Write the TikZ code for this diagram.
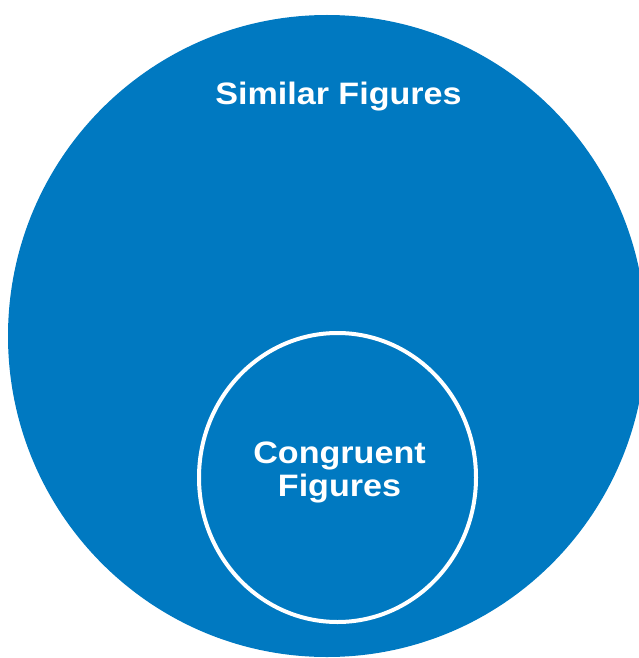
\documentclass[tikz,border=0pt]{standalone}
\usepackage{fontspec}
\setmainfont{Liberation Sans}
\newfontfamily\setfont{Liberation Sans}[FakeStretch=1.1]
\usetikzlibrary{positioning}
\usetikzlibrary{shapes.geometric}
\definecolor{setblue}{RGB}{0,121,193}

\begin{document}
\begin{tikzpicture}[x=1pt,y=1pt,
					font=\setfont\fontsize{31}{32.5}\selectfont\bfseries,text=white]
					\tikzstyle{every set}=[shape=ellipse,inner sep=0pt]
					\tikzstyle{outer set}=[every set,fill=setblue,minimum width=638pt,minimum height=642pt]
					\tikzstyle{inner set}=[every set,draw=white,line width=4pt,minimum width=277pt,minimum height=289pt]
					
					\useasboundingbox (0,0) rectangle (639,-658);
					
					\node[outer set]     (similar)   at (327,-336)   {};
					\node[inner set]     (congruent) at (337.5,-477.5) {};
					
					\node[anchor=base,inner sep=0pt] (similar_label) at (338.5,-104.5) {Similar Figures};
					\node[align=center,inner sep=0pt] (congruent_label) at (339.5,-472.7) {Congruent\\Figures};
					\end{tikzpicture}
\end{document}
